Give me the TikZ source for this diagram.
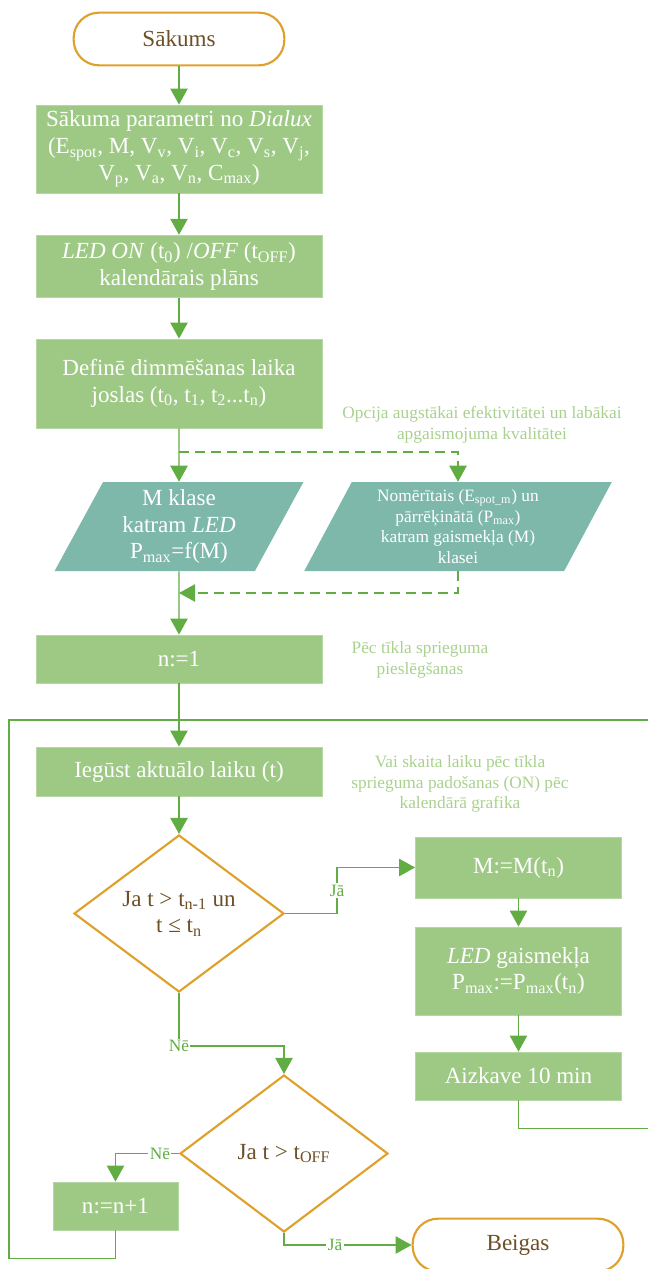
\documentclass[tikz,border=0pt]{standalone}
\usepackage{fontspec}
\setmainfont{Liberation Serif}
\usetikzlibrary{shapes.geometric,arrows.meta}

\definecolor{boxgreen}{HTML}{9DC985}
\definecolor{datateal}{HTML}{7DB8AB}
\definecolor{termorange}{HTML}{DFA02C}
\definecolor{flowgreen}{HTML}{62AC44}
\definecolor{notegreen}{HTML}{A9D18E}
\definecolor{textbrown}{HTML}{6E5027}

\newcommand{\ssub}[1]{\textsubscript{#1}}

\begin{document}
\begin{tikzpicture}[
    x=0.75pt, y=-0.75pt,
    every node/.style={font=\fontsize{17.3}{20}\selectfont, align=center, inner sep=0pt},
    terminal/.style={draw=termorange, line width=1.6pt, fill=white, rounded corners=19pt,
        minimum width=158pt, minimum height=39.5pt, text=textbrown},
    process/.style={fill=boxgreen, draw=boxgreen!75!white, line width=0.6pt, text=white,
        minimum width=214.5pt},
    sideprocess/.style={process, minimum width=154.5pt},
    data/.style={trapezium, trapezium left angle=64, trapezium right angle=116,
        trapezium stretches=true, fill=datateal, text=white, minimum height=66.75pt},
    decision/.style={diamond, aspect=1.34, draw=termorange, line width=1.6pt, fill=white,
        text=textbrown, minimum width=157.5pt, minimum height=117.75pt},
    note/.style={font=\fontsize{13}{15.5}\selectfont, text=notegreen},
    flow/.style={draw=flowgreen, line width=1pt},
    arrow/.style={flow, -{Triangle[width=13pt,length=12pt]}},
    optline/.style={arrow, dash pattern=on 7.5pt off 4.5pt},
    answer/.style={font=\fontsize{13}{15}\selectfont, text=flowgreen, fill=white, inner sep=1pt}
]
\useasboundingbox (0,0) rectangle (648,1269);

\node[terminal] (start) at (179,39) {Sākums};
\node[process, minimum height=66pt] (params) at (179,149)
    {Sākuma parametri no \textit{Dialux}\\
     (E\ssub{spot}, M, V\ssub{v}, V\ssub{i}, V\ssub{c}, V\ssub{s}, V\ssub{j},\\
     V\ssub{p}, V\ssub{a}, V\ssub{n}, C\ssub{max})};
\node[process, minimum height=47pt] (schedule) at (179,266.5)
    {\textit{LED ON} (t\ssub{0}) /\textit{OFF} (t\ssub{OFF})\\kalendārais plāns};
\node[process, minimum height=66.75pt] (bands) at (179,383.5)
    {Definē dimmēšanas laika\\joslas (t\ssub{0}, t\ssub{1}, t\ssub{2}...t\ssub{n})};

\node[note] (optnote) at (482,425)
    {Opcija augstākai efektivitātei un labākai\\apgaismojuma kvalitātei};
\node[data, minimum width=186.75pt] (mclass) at (179,526.5)
    {M klase\\katram \textit{LED}\\P\ssub{max}=f(M)};
\node[data, minimum width=231pt, font=\fontsize{13}{15.5}\selectfont] (measured) at (458,526.5)
    {Nomērītais (E\ssub{spot\_m}) un\\pārrēķinātā (P\ssub{max})\\katram gaismekļa (M)\\klasei};

\node[process, minimum height=36pt] (init) at (179,659) {n:=1};
\node[note] (initnote) at (420,660) {Pēc tīkla sprieguma\\pieslēgšanas};

\node[process, minimum height=36.75pt] (gettime) at (179,771.5) {Iegūst aktuālo laiku (t)};
\node[note] (timenote) at (460,784)
    {Vai skaita laiku pēc tīkla\\sprieguma padošanas (ON) pēc\\kalendārā grafika};

\node[decision] (inband) at (179,913.5) {Ja t > t\ssub{n-1} un\\t ≤ t\ssub{n}};
\node[sideprocess, minimum height=45.75pt] (setclass) at (518.5,867.5) {M:=M(t\ssub{n})};
\node[sideprocess, minimum height=66pt] (setpower) at (518.5,971)
    {\textit{LED} gaismekļa\\P\ssub{max}:=P\ssub{max}(t\ssub{n})};
\node[sideprocess, minimum height=36pt] (delay) at (518.5,1076) {Aizkave 10 min};

\node[decision, minimum width=156pt] (offcheck) at (284,1153.5) {Ja t > t\ssub{OFF}};
\node[process, minimum width=93.75pt, minimum height=36pt] (next) at (115.5,1206) {n:=n+1};
\node[terminal] (stop) at (518,1245) {Beigas};

\coordinate (split) at (179,452);
\coordinate (merge) at (179,593);
\coordinate (loopjoin) at (179,720);
\coordinate (loopleft) at (9,720);
\coordinate (loopright) at (660,720);

\draw[arrow] (start) -- (params);
\draw[arrow] (params) -- (schedule);
\draw[arrow] (schedule) -- (bands);
\draw[arrow] (bands) -- (mclass);
\draw[optline] (split) -| (measured.north);
\draw[optline] (measured.south) |- (merge);
\draw[arrow] (mclass) -- (init);
\draw[arrow] (init) -- (gettime);
\draw[arrow] (gettime) -- (inband);
\draw[arrow] (inband.east) -- ++(52,0) |- node[answer, pos=0.25] {Jā} (setclass.west);
\draw[arrow] (setclass) -- (setpower);
\draw[arrow] (setpower) -- (delay);
\draw[flow] (delay.south) -- ++(0,28) -| (loopright) -- (loopjoin);
\draw[arrow] (inband.south) -- ++(0,53) node[answer] {Nē} -| (offcheck.north);
\draw[arrow] (offcheck.west) -| node[answer, pos=0.15] {Nē} (next.north);
\draw[flow] (next.south) -- ++(0,28) -| (loopleft) -- (loopjoin);
\draw[arrow] (offcheck.south) |- node[answer, pos=0.7] {Jā} (stop.west);
\end{tikzpicture}
\end{document}
